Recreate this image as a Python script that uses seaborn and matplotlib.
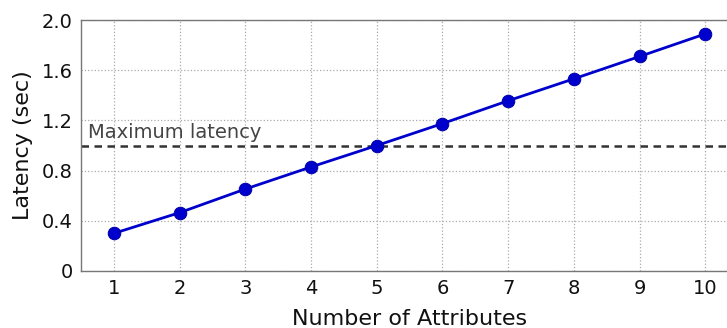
import matplotlib
matplotlib.use("Agg")
import matplotlib.pyplot as plt
import seaborn as sns
import pandas as pd

attributes = [1, 2, 3, 4, 5, 6, 7, 8, 9, 10]
latency = [0.30, 0.465, 0.653, 0.829, 1.0, 1.175, 1.357, 1.532, 1.71, 1.89]
max_latency = 1.0
y_ticks = [0, 0.4, 0.8, 1.2, 1.6, 2.0]
y_tick_labels = ["0", "0.4", "0.8", "1.2", "1.6", "2.0"]

sns.set_style("white")
plt.rcParams['font.family'] = ['DejaVu Sans']

fig = plt.figure(figsize=(7.27, 3.28), dpi=100)
ax = fig.add_axes([0.1114, 0.1738, 0.904, 0.765])

df = pd.DataFrame({"Number of Attributes": attributes, "Latency (sec)": latency})
sns.lineplot(data=df, x="Number of Attributes", y="Latency (sec)", ax=ax,
             color="#0000CC", linewidth=2, marker="o", markersize=9,
             markeredgecolor="#0000AA", zorder=3)
ax.axhline(max_latency, color="#333333", linestyle=(0, (3, 2.2)), linewidth=1.8, zorder=2)
ax.text(0.6, 1.03, "Maximum latency", fontsize=14, color="#444444", va="bottom", ha="left")

ax.set_xlim(0.5, 10.5)
ax.set_ylim(0, 2.0)
ax.set_xticks(attributes)
ax.set_yticks(y_ticks)
ax.set_yticklabels(y_tick_labels)
ax.tick_params(axis="both", labelsize=14, length=0, pad=6, colors="#111111")
ax.grid(True, linestyle=":", color="#aaaaaa", linewidth=0.9)
ax.set_axisbelow(True)
for s in ax.spines.values():
    s.set_color("#777777")
    s.set_linewidth(1.0)
ax.set_xlabel("Number of Attributes", fontsize=16, color="#111111", labelpad=8)
ax.set_ylabel("Latency (sec)", fontsize=16, color="#111111", labelpad=6)

fig.savefig("out.png", dpi=100)
